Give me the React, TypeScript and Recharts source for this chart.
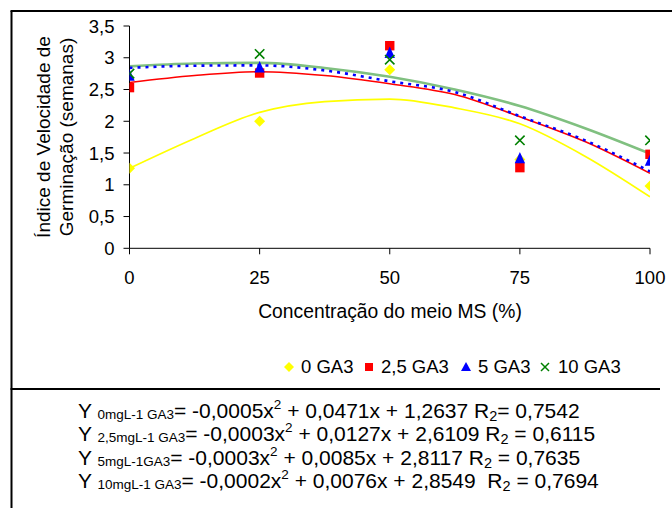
import React from "react";
import { ComposedChart, Line, Scatter, XAxis, YAxis } from "recharts";

// ---- data ----
const concentrations = [0, 25, 50, 75, 100];
const ga0Points = [1.26, 2.0, 2.81, 1.4, 0.98];
const ga25Points = [2.53, 2.76, 3.19, 1.27, 1.48];
const ga5Points = [2.72, 2.85, 3.08, 1.42, 1.38];
const ga10Points = [2.75, 3.06, 2.97, 1.7, 1.7];

const trendX = [0, 12.5, 25, 37.5, 50, 62.5, 75, 87.5, 100];
const ga0Trend = [1.26, 1.73, 2.14, 2.31, 2.35, 2.21, 1.96, 1.45, 0.81];
const ga25Trend = [2.61, 2.72, 2.78, 2.72, 2.59, 2.42, 2.07, 1.68, 1.18];
const ga5Trend = [2.84, 2.875, 2.88, 2.8, 2.63, 2.46, 2.08, 1.7, 1.21];
const ga10Trend = [2.865, 2.91, 2.92, 2.84, 2.7, 2.5, 2.24, 1.89, 1.49];

const xTicks = [0, 25, 50, 75, 100];
const yTicks = [0, 0.5, 1, 1.5, 2, 2.5, 3, 3.5];

const legendLabels = ["0 GA3", "2,5 GA3", "5 GA3", "10 GA3"];
const yTitleLines = ["Índice de Velocidade de", "Germinação (semanas)"];
const xTitle = "Concentração do meio MS (%)";

const equations = [
  { sub: "0mgL-1 GA3", a: "= -0,0005x", b: " + 0,0471x + 1,2637 R", c: "= 0,7542" },
  { sub: "2,5mgL-1 GA3", a: "= -0,0003x", b: " + 0,0127x + 2,6109 R", c: " = 0,6115" },
  { sub: "5mgL-1GA3", a: "= -0,0003x", b: " + 0,0085x + 2,8117 R", c: " = 0,7635" },
  { sub: "10mgL-1 GA3", a: "= -0,0002x", b: " + 0,0076x + 2,8549  R", c: " = 0,7694" },
];

const pts = (ys: number[]) => concentrations.map((x, i) => ({ x, y: ys[i] }));
const trend = (ys: number[]) => trendX.map((x, i) => ({ x, y: ys[i] }));

const FONT = "'Liberation Sans', Arial, sans-serif";
const YELLOW = "#ffff00";
const RED = "#ff0000";
const BLUE = "#0000ff";
const GREEN = "#008000";
const GREEN_LINE = "#80c080";

const Diamond = (p: any) => {
  const { cx, cy } = p;
  const r = 5.5;
  return <path d={`M${cx},${cy - r}L${cx + r},${cy}L${cx},${cy + r}L${cx - r},${cy}Z`} fill={YELLOW} />;
};
const Square = (p: any) => {
  const { cx, cy } = p;
  const r = 4.7;
  return <rect x={cx - r} y={cy - r} width={2 * r} height={2 * r} fill={RED} />;
};
const Triangle = (p: any) => {
  const { cx, cy } = p;
  const r = 5.2;
  return <path d={`M${cx},${cy - r - 1}L${cx + r},${cy + r}L${cx - r},${cy + r}Z`} fill={BLUE} />;
};
const Cross = (p: any) => {
  const { cx, cy } = p;
  const r = 4.7;
  return (
    <path
      d={`M${cx - r},${cy - r}L${cx + r},${cy + r}M${cx + r},${cy - r}L${cx - r},${cy + r}`}
      stroke={GREEN}
      strokeWidth={1.6}
      fill="none"
    />
  );
};

const fmt = (v: number) => String(v).replace(".", ",");

export default function App() {
  const legendItems = [
    { marker: (x: number, y: number) => <path d={`M${x},${y - 5}L${x + 5},${y}L${x},${y + 5}L${x - 5},${y}Z`} fill={YELLOW} />, mx: 289, tx: 301 },
    { marker: (x: number, y: number) => <rect x={x - 4} y={y - 4} width={8} height={8} fill={RED} />, mx: 369, tx: 381 },
    { marker: (x: number, y: number) => <path d={`M${x},${y - 5}L${x + 5},${y + 4}L${x - 5},${y + 4}Z`} fill={BLUE} />, mx: 466, tx: 478 },
    {
      marker: (x: number, y: number) => (
        <path d={`M${x - 4},${y - 4}L${x + 4},${y + 4}M${x + 4},${y - 4}L${x - 4},${y + 4}`} stroke={GREEN} strokeWidth={1.5} />
      ),
      mx: 545,
      tx: 558,
    },
  ];

  return (
    <div style={{ position: "absolute", left: 0, top: 0, width: 672, height: 508, background: "#fff", fontFamily: FONT }}>
      <svg width={672} height={508} style={{ position: "absolute", left: 0, top: 0 }}>
        {/* frame */}
        <line x1={11.5} y1={11} x2={11.5} y2={508} stroke="#000" strokeWidth={2} />
        <line x1={10.5} y1={11} x2={672} y2={11} stroke="#000" strokeWidth={2} />
        <line x1={10.5} y1={389} x2={660} y2={389} stroke="#000" strokeWidth={2} />
        {/* y title */}
        {yTitleLines.map((t, i) => (
          <text
            key={t}
            transform={`translate(${50 + i * 23},137) rotate(-90)`}
            textAnchor="middle"
            fontSize={19}
            fill="#000"
            fontFamily={FONT}
          >
            {t}
          </text>
        ))}
        {/* x title */}
        <text x={390} y={318} textAnchor="middle" fontSize={19.3} fill="#000" fontFamily={FONT}>
          {xTitle}
        </text>
        {/* legend */}
        {legendItems.map((it, i) => (
          <g key={i}>
            {it.marker(it.mx, 367)}
            <text x={it.tx} y={373} fontSize={18.5} fill="#000" fontFamily={FONT}>
              {legendLabels[i]}
            </text>
          </g>
        ))}
        {/* equations */}
        {equations.map((e, i) => (
          <text key={i} x={78} y={417.5 + i * 23.5} fontSize={21} fill="#000" fontFamily={FONT} style={{ whiteSpace: "pre" }}>
            <tspan>{"Y "}</tspan>
            <tspan fontSize={13.5} dy={1}>{e.sub}</tspan>
            <tspan dy={-1}>{e.a}</tspan>
            <tspan fontSize={13.5} dy={-9}>2</tspan>
            <tspan dy={9}>{e.b}</tspan>
            <tspan fontSize={14.5} dy={3}>2</tspan>
            <tspan dy={-3}>{e.c}</tspan>
          </text>
        ))}
      </svg>
      <div style={{ position: "absolute", left: 0, top: 0 }}>
        <ComposedChart width={672} height={300} margin={{ top: 26, right: 22, bottom: 0, left: 0 }}>
          <XAxis
            type="number"
            dataKey="x"
            domain={[0, 100]}
            ticks={xTicks}
            allowDataOverflow
            height={51.7}
            tickSize={6}
            tickMargin={17}
            stroke="#000"
            tick={{ fill: "#000", fontSize: 18.5, fontFamily: FONT }}
          />
          <YAxis
            type="number"
            dataKey="y"
            domain={[0, 3.5]}
            ticks={yTicks}
            width={129.5}
            tickSize={6}
            tickMargin={9}
            tickFormatter={fmt}
            stroke="#000"
            tick={{ fill: "#000", fontSize: 18.5, fontFamily: FONT }}
          />
          <Line data={trend(ga0Trend)} dataKey="y" type="monotone" stroke={YELLOW} strokeWidth={1.7} dot={false} isAnimationActive={false} />
          <Line data={trend(ga10Trend)} dataKey="y" type="monotone" stroke={GREEN_LINE} strokeWidth={2.6} dot={false} isAnimationActive={false} />
          <Line data={trend(ga25Trend)} dataKey="y" type="monotone" stroke={RED} strokeWidth={1.6} dot={false} isAnimationActive={false} />
          <Line
            data={trend(ga5Trend)}
            dataKey="y"
            type="monotone"
            stroke={BLUE}
            strokeWidth={2.6}
            strokeDasharray="3 5"
            dot={false}
            isAnimationActive={false}
          />
          <Scatter data={pts(ga0Points)} dataKey="y" shape={Diamond} isAnimationActive={false} />
          <Scatter data={pts(ga25Points)} dataKey="y" shape={Square} isAnimationActive={false} />
          <Scatter data={pts(ga5Points)} dataKey="y" shape={Triangle} isAnimationActive={false} />
          <Scatter data={pts(ga10Points)} dataKey="y" shape={Cross} isAnimationActive={false} />
        </ComposedChart>
      </div>
    </div>
  );
}
